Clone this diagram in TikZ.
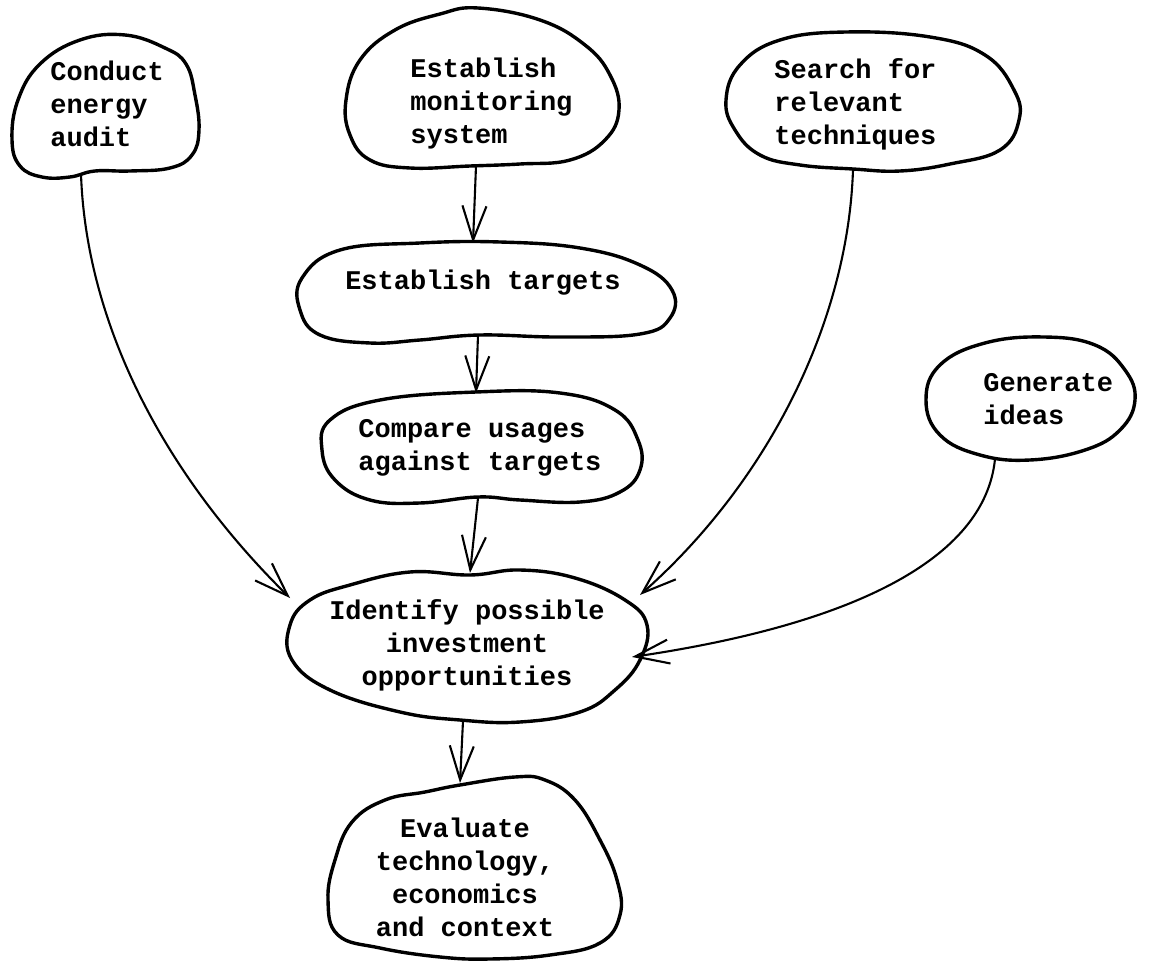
\documentclass[tikz,border=0pt]{standalone}
\usepackage{fontspec}
\newfontfamily\cour{Liberation Mono}
\usetikzlibrary{arrows.meta}

\tikzset{
  blob/.style={line width=1.7pt, line join=round},
  flow/.style={line width=1.05pt, line cap=round,
    -{Straight Barb[length=17pt,width=12pt,line width=1.05pt]}},
  txt/.style={font=\cour\bfseries\fontsize{13.5pt}{16.5pt}\selectfont, inner sep=0pt},
}

\begin{document}
\begin{tikzpicture}[x=0.5pt,y=-0.5pt]
\useasboundingbox (0,0) rectangle (1153,963);

% ---- text of the steps ----
\node[txt, align=left, anchor=west] (audit) at (50,104) {Conduct\\energy\\audit};
\node[txt, align=left, anchor=west] (monitor) at (410,104) {Establish\\monitoring\\system};
\node[txt, align=left, anchor=west] (search) at (774,104) {Search for\\relevant\\techniques};
\node[txt] (targets) at (483,283) {Establish targets};
\node[txt, align=left, anchor=west] (compare) at (358,448) {Compare usages\\against targets};
\node[txt, align=left, anchor=west] (ideas) at (983,399) {Generate\\ideas};
\node[txt, align=center] (identify) at (467,645) {Identify possible\\investment\\opportunities};
\node[txt, align=center] (evaluate) at (465,877) {Evaluate\\technology,\\economics\\and context};

% ---- hand-drawn outlines ----
\draw[blob] plot[smooth cycle, tension=0.7] coordinates {
  (125,35) (165,48) (186,64) (195,95) (199,130) (192,155) (170,168)
  (130,171) (95,171) (70,177) (42,177) (20,166) (12,140) (18,100) (40,64) (80,40)};
\draw[blob] plot[smooth cycle, tension=0.7] coordinates {
  (478,8) (540,20) (585,45) (610,75) (619,110) (605,140) (570,160)
  (520,164) (470,166) (410,168) (370,160) (350,135) (346,100) (360,60) (395,30) (440,14)};
\draw[blob] plot[smooth cycle, tension=0.7] coordinates {
  (846,32) (930,37) (985,55) (1014,90) (1019,120) (1000,150) (950,164)
  (900,171) (853,169) (800,165) (760,155) (735,130) (726,100) (740,65) (780,40)};
\draw[blob] plot[smooth cycle, tension=0.7] coordinates {
  (340,250) (420,243) (500,242) (580,248) (640,265) (672,290) (670,318)
  (640,334) (560,337) (480,335) (420,340) (370,343) (320,335) (300,310) (302,278)};
\draw[blob] plot[smooth cycle, tension=0.7] coordinates {
  (330,420) (380,400) (476,392) (560,393) (615,410) (638,440) (640,470)
  (620,492) (580,502) (520,500) (478,497) (420,503) (370,500) (335,480) (322,450)};
\draw[blob] plot[smooth cycle, tension=0.7] coordinates {
  (1044,337) (1095,345) (1125,370) (1135,400) (1120,430) (1085,450)
  (1030,460) (980,455) (940,435) (926,400) (940,365) (985,343)};
\draw[blob] plot[smooth cycle, tension=0.7] coordinates {
  (350,585) (410,572) (470,575) (520,570) (575,578) (625,600) (647,625)
  (640,660) (615,690) (580,712) (520,722) (460,720) (400,712) (330,690)
  (292,660) (290,625) (310,600)};
\draw[blob] plot[smooth cycle, tension=0.7] coordinates {
  (460,785) (515,777) (545,780) (575,800) (600,840) (617,880) (620,915)
  (600,943) (550,955) (490,959) (440,957) (380,948) (338,935) (328,900)
  (335,860) (352,822) (385,800) (425,792)};

% ---- connection points on the outlines ----
\coordinate (audit-out) at (81,174);
\coordinate (monitor-out) at (476,166);
\coordinate (targets-in) at (473,243);
\coordinate (targets-out) at (478,335);
\coordinate (compare-in) at (476,393);
\coordinate (compare-out) at (478,498);
\coordinate (identify-top) at (470,573);
\coordinate (identify-nw) at (290,598);
\coordinate (search-out) at (853,170);
\coordinate (identify-ne) at (640,595);
\coordinate (ideas-out) at (995,459);
\coordinate (identify-e) at (632,657);
\coordinate (identify-out) at (463,721);
\coordinate (evaluate-in) at (460,783);

% ---- connectors ----
\draw[flow] (monitor-out) -- (targets-in);
\draw[flow] (targets-out) -- (compare-in);
\draw[flow] (compare-out) -- (identify-top);
\draw[flow] (identify-out) -- (evaluate-in);
\draw[flow] (audit-out) .. controls (86,320) and (160,470) .. (identify-nw);
\draw[flow] (search-out) .. controls (848,320) and (770,480) .. (identify-ne);
\draw[flow] (ideas-out) .. controls (985,560) and (850,625) .. (identify-e);
\end{tikzpicture}
\end{document}
